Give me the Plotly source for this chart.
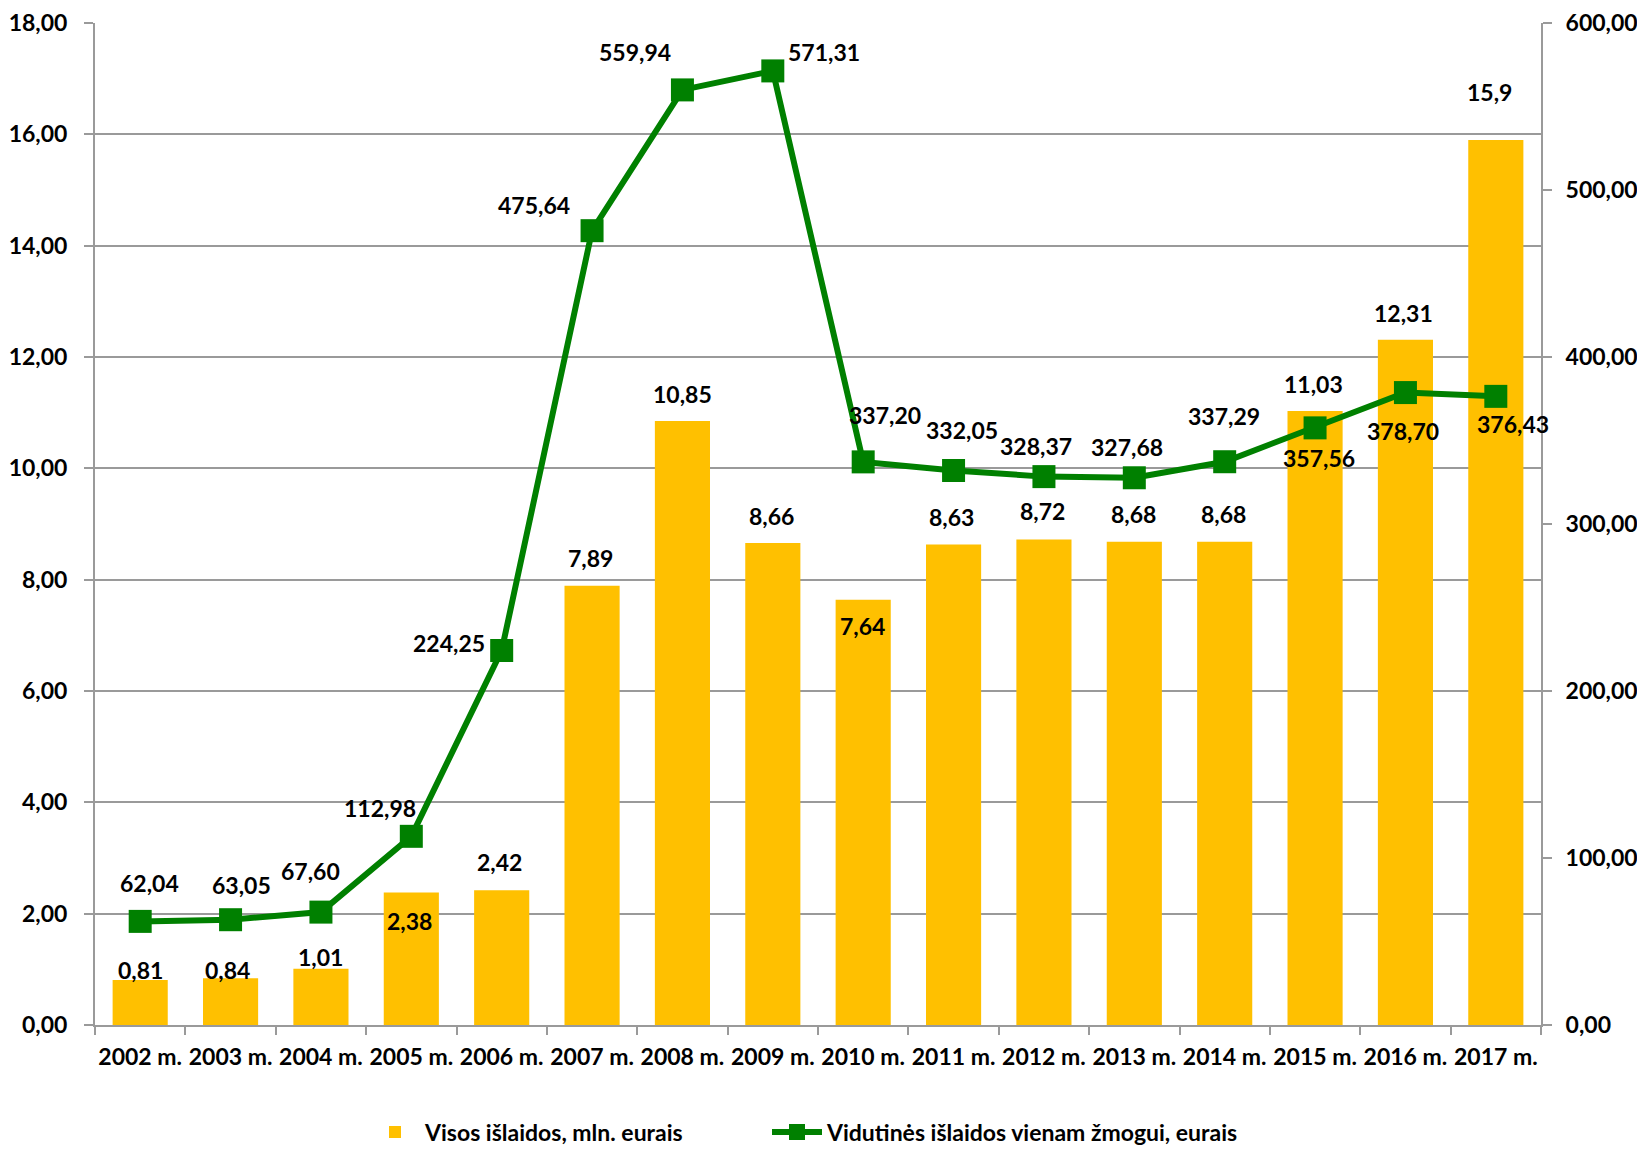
import plotly.graph_objects as go

years = ["2002 m.", "2003 m.", "2004 m.", "2005 m.", "2006 m.", "2007 m.", "2008 m.", "2009 m.",
         "2010 m.", "2011 m.", "2012 m.", "2013 m.", "2014 m.", "2015 m.", "2016 m.", "2017 m."]
total_spend = [0.81, 0.84, 1.01, 2.38, 2.42, 7.89, 10.85, 8.66, 7.64, 8.63, 8.72, 8.68, 8.68, 11.03, 12.31, 15.9]
total_decimals = [2] * 15 + [1]
per_person = [62.04, 63.05, 67.60, 112.98, 224.25, 475.64, 559.94, 571.31, 337.20, 332.05, 328.37,
              327.68, 337.29, 357.56, 378.70, 376.43]

bar_name = "Visos išlaidos, mln. eurais"
line_name = "Vidutinės išlaidos vienam žmogui, eurais"

# label offsets (pixels) - style only
bar_dx = [0, -3, 0, -2, -2, -2, 0, -1, -1, -2, -1, -1, -1, -2, -2, -6]
bar_dy = [-10, -8, -12, 28, -28, -28, -27, -27, 26, -28, -29, -28, -28, -27, -27, -48]
line_dx = [9, 11, -10, -31, -53, -58, -47, 51, 22, 8, -8, -7, -1, 4, -2, 17]
line_dy = [-38, -35, -41, -28, -8, -26, -38, -19, -47, -40, -31, -31, -46, 30, 38, 28]

FONT = "Lato"
BAR_C = "#FFC000"
LINE_C = "#008000"
GRID_C = "#9a9a9a"
FS = 23

fig = go.Figure()
fig.add_trace(go.Bar(x=years, y=total_spend, name=bar_name, marker=dict(color=BAR_C, line=dict(width=0)),
                     yaxis="y", legend="legend"))
fig.add_trace(go.Scatter(x=years, y=per_person, name=line_name, yaxis="y2", mode="lines+markers",
                         line=dict(color=LINE_C, width=6),
                         marker=dict(symbol="square", size=23, color=LINE_C), legend="legend2"))

def fmt(v, d):
    return f"{v:.{d}f}".replace(".", ",")

lab_font = dict(family=FONT, size=FS, color="black", weight="bold")
anns = []
for i, (x, v) in enumerate(zip(years, total_spend)):
    anns.append(dict(x=x, y=v, xref="x", yref="y", text=fmt(v, total_decimals[i]), showarrow=False,
                     xshift=bar_dx[i], yshift=-bar_dy[i], font=lab_font))
for i, (x, v) in enumerate(zip(years, per_person)):
    anns.append(dict(x=x, y=v, xref="x", yref="y2", text=fmt(v, 2), showarrow=False,
                     xshift=line_dx[i], yshift=-line_dy[i], font=lab_font))

axis_font = dict(family=FONT, size=FS, color="black", weight="bold")
leg_common = dict(orientation="h", xref="container", yref="container", xanchor="left", yanchor="middle",
                  y=0.0132, font=dict(family=FONT, size=FS, color="black", weight="bold"),
                  itemwidth=50, bgcolor="rgba(0,0,0,0)")

W, H = 1629, 1139
# page body has an 8px margin: figure is 1629x1139, placed at (8, 8)
fig.update_layout(
    width=W, height=H,
    margin=dict(l=87, r=96, t=15, b=122),
    paper_bgcolor="white", plot_bgcolor="white",
    separators=", ",
    font=dict(family=FONT, size=FS, color="black", weight="bold"),
    bargap=0.39,
    showlegend=True,
    legend=dict(x=357 / W, **leg_common),
    legend2=dict(x=759 / W, **leg_common),
    xaxis=dict(type="category", range=[-0.5, len(years) - 0.5], showline=True, linecolor=GRID_C,
               linewidth=2, automargin=False,
               ticks="outside", tickson="boundaries", ticklen=8, tickcolor=GRID_C, tickwidth=2,
               tickfont=axis_font, tickangle=0, showgrid=False, ticklabelstandoff=10),
    yaxis=dict(range=[0, 18], dtick=2, tickformat=".2f", showline=True, linecolor=GRID_C, linewidth=2,
               ticks="outside", ticklen=9, tickcolor=GRID_C, tickwidth=2, automargin=False,
               showgrid=True, gridcolor=GRID_C, gridwidth=2, zeroline=False,
               tickfont=axis_font, ticklabelstandoff=12),
    yaxis2=dict(range=[0, 600], dtick=100, tickformat=".2f", overlaying="y", side="right",
                showline=True, linecolor=GRID_C, linewidth=2, automargin=False,
                ticks="outside", ticklen=9, tickcolor=GRID_C, tickwidth=2,
                showgrid=False, zeroline=False, tickfont=axis_font, ticklabelstandoff=9),
    annotations=anns,
)

fig.write_html("out.html")
